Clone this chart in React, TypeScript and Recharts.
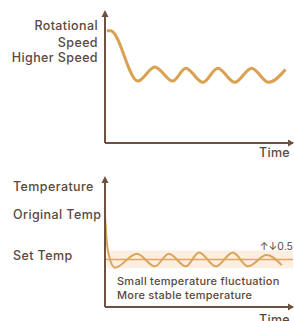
import React from 'react';
import { LineChart, Line, XAxis, YAxis, ReferenceLine, ReferenceArea, ReferenceDot } from 'recharts';

// top panel: rotational speed over time (0-100 both axes)
const speedTime = [1, 3, 17.5, 26.5, 36, 43, 52, 60, 69, 78, 87, 96];
const speedValue = [87, 87, 48, 59, 48, 58, 47, 58, 47, 58, 47, 57];
const speedTickValues = [91, 78, 66];
const speedTickLabels = ['Rotational', 'Speed', 'Higher Speed'];

// bottom panel: temperature over time
const tempTime = [0, 0.6, 1.7, 5.3, 17, 26.5, 34, 43, 50, 59, 68, 76, 86, 94];
const tempValue = [72.7, 58, 43, 31, 42, 32, 42, 32, 43, 32, 43, 32, 41, 33];
const tempTickValues = [95, 72.7, 40.5];
const tempTickLabels = ['Temperature', 'Original Temp', 'Set Temp'];
const setTemp = 37.5;
const bandLow = 30.5;
const bandHigh = 44.5;
const notes = ['Small temperature fluctuation', 'More stable temperature'];

const speedData = speedTime.map((t, i) => ({ t, v: speedValue[i] }));
const tempData = tempTime.map((t, i) => ({ t, v: tempValue[i] }));

const AXIS = '#6e5140';
const TEXT = '#5a493e';
const FONT = 'Inter, "Open Sans", sans-serif';

const UpArrow = (props: any) => {
  const { cx, cy } = props;
  return <polygon points={`${cx - 3.5},${cy + 3} ${cx},${cy - 4} ${cx + 3.5},${cy + 3}`} fill={AXIS} />;
};
const RightArrow = (props: any) => {
  const { cx, cy } = props;
  return <polygon points={`${cx - 5},${cy - 3.5} ${cx + 1},${cy} ${cx - 5},${cy + 3.5}`} fill={AXIS} />;
};

const makeTick = (values: number[], labels: string[], anchor: 'start' | 'end', x: number) => (props: any) => {
  const { y, payload } = props;
  const idx = values.indexOf(payload.value);
  return (
    <text x={x} y={y} dy="0.35em" textAnchor={anchor} fill={TEXT} fontSize={12.5} fontWeight={500}
      letterSpacing={0.4} fontFamily={FONT}>
      {labels[idx]}
    </text>
  );
};

const makeTimeTick = (dy: number) => (props: any) => {
  const { y, payload } = props;
  if (payload.value !== 100) return null;
  return (
    <text x={290} y={y + dy} textAnchor="end" fill={TEXT} fontSize={12.5} fontWeight={500} letterSpacing={0.3} fontFamily={FONT}>
      Time
    </text>
  );
};

const App: React.FC = () => {
  return (
    <div style={{ position: 'absolute', left: 0, top: 0, width: 294, height: 321, background: '#fff', overflow: 'hidden' }}>
      <LineChart width={294} height={160} data={speedData} margin={{ top: 14, right: 1, left: 104, bottom: 16 }}>
        <XAxis dataKey="t" type="number" domain={[0, 100]} height={1} ticks={[100]} tickLine={false}
          axisLine={{ stroke: AXIS, strokeWidth: 2 }} tick={makeTimeTick(6)} interval={0} />
        <YAxis type="number" domain={[0, 100]} width={1} ticks={speedTickValues} tickLine={false}
          axisLine={{ stroke: AXIS, strokeWidth: 2 }} tick={makeTick(speedTickValues, speedTickLabels, 'end', 98)} interval={0} />
        <ReferenceDot x={100} y={0} r={0} shape={RightArrow} ifOverflow="visible" />
        <ReferenceDot x={0} y={100} r={0} shape={UpArrow} ifOverflow="visible" />
        <Line type="monotone" dataKey="v" stroke="#d9a150" strokeWidth={3} dot={false} isAnimationActive={false} />
      </LineChart>
      <LineChart width={294} height={161} data={tempData} margin={{ top: 20, right: 1, left: 104, bottom: 13 }}>
        <ReferenceArea x1={1} x2={100} y1={bandLow} y2={bandHigh} fill="#fcefe2" fillOpacity={1} stroke="none" />
        <XAxis dataKey="t" type="number" domain={[0, 100]} height={1} ticks={[100]} tickLine={false}
          axisLine={{ stroke: AXIS, strokeWidth: 2 }} tick={makeTimeTick(9)} interval={0} />
        <YAxis type="number" domain={[0, 100]} width={1} ticks={tempTickValues} tickLine={false}
          axisLine={{ stroke: AXIS, strokeWidth: 2 }} tick={makeTick(tempTickValues, tempTickLabels, 'start', 13)} interval={0} />
        <ReferenceLine y={setTemp} stroke="#e9a35c" strokeWidth={1.5}
          label={(p: any) => (
            <g>
              <text x={p.viewBox.x + p.viewBox.width} y={p.viewBox.y - 9} textAnchor="end" fill={TEXT} fontSize={10.5} fontFamily={FONT}>
                ↑↓0.5
              </text>
              <text x={p.viewBox.x + 12} y={p.viewBox.y + 26} fill={TEXT} fontSize={11} fontWeight={500}
                letterSpacing={0.25} fontFamily={FONT}>
                {notes[0]}
              </text>
              <text x={p.viewBox.x + 12} y={p.viewBox.y + 40} fill={TEXT} fontSize={11} fontWeight={500}
                letterSpacing={0.25} fontFamily={FONT}>
                {notes[1]}
              </text>
            </g>
          )} />
        <ReferenceDot x={100} y={0} r={0} shape={RightArrow} ifOverflow="visible" />
        <ReferenceDot x={0} y={100} r={0} shape={UpArrow} ifOverflow="visible" />
        <Line type="monotone" dataKey="v" stroke="#d9a55c" strokeWidth={2} dot={false} isAnimationActive={false} />
      </LineChart>
    </div>
  );
};

export default App;
